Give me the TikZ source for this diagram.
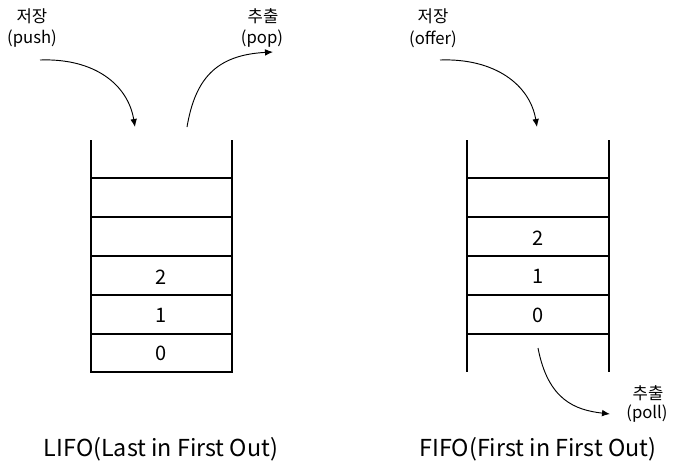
\documentclass[tikz,border=0pt]{standalone}
\usepackage{fontspec}
\setmainfont{Noto Sans CJK KR}
\usetikzlibrary{arrows.meta}
\begin{document}
\begin{tikzpicture}[x=0.75pt,y=-0.75pt,
  wall/.style={line width=0.9pt},
  flow/.style={line width=0.7pt,-{Latex[length=6pt,width=5pt]}},
  small/.style={font=\fontsize{12.5}{14}\selectfont,inner sep=0pt},
  num/.style={font=\fontsize{15}{17}\selectfont,inner sep=0pt},
  captext/.style={font=\fontsize{17.5}{20}\selectfont,inner sep=0pt}]
\useasboundingbox (0,0) rectangle (682,472);
% LIFO stack
\draw[wall] (91,140) -- (91,372) -- (232,372) -- (232,140);
\foreach \y in {178,217,256,295,334} \draw[wall] (91,\y) -- (232,\y);
\node[num] (l2) at (161.5,277) {2};
\node[num] (l1) at (161.5,315) {1};
\node[num] (l0) at (161.5,353) {0};
% FIFO stack
\draw[wall] (467,140) -- (467,372);
\draw[wall] (609,140) -- (609,372);
\foreach \y in {178,217,256,295,334} \draw[wall] (467,\y) -- (609,\y);
\node[num] (f2) at (538,238) {2};
\node[num] (f1) at (538,276) {1};
\node[num] (f0) at (538,315) {0};
% labels
\node[small] (push1) at (32,16) {저장};
\node[small] (push2) at (32,39) {(push)};
\node[small] (pop1) at (263,16) {추출};
\node[small] (pop2) at (262,39) {(pop)};
\node[small] (off1) at (433,16) {저장};
\node[small] (off2) at (433,39) {(offer)};
\node[small] (poll1) at (648,393) {추출};
\node[small] (poll2) at (647,414) {(poll)};
\node[captext] (lcap) at (161,449) {LIFO(Last in First Out)};
\node[captext] (fcap) at (538,449) {FIFO(First in First Out)};
% arrows
\coordinate (pushS) at (40,60);
\coordinate (pushE) at (135,127);
\coordinate (popS) at (187,127);
\coordinate (popE) at (273,52);
\coordinate (offS) at (440,60);
\coordinate (offE) at (537,127);
\coordinate (pollS) at (538,348);
\coordinate (pollE) at (610,414);
\draw[flow] (pushS) .. controls (95,58) and (128,85) .. (pushE);
\draw[flow] (popS) .. controls (195,80) and (215,55) .. (popE);
\draw[flow] (offS) .. controls (495,58) and (530,85) .. (offE);
\draw[flow] (pollS) .. controls (548,400) and (575,410) .. (pollE);
\end{tikzpicture}
\end{document}
